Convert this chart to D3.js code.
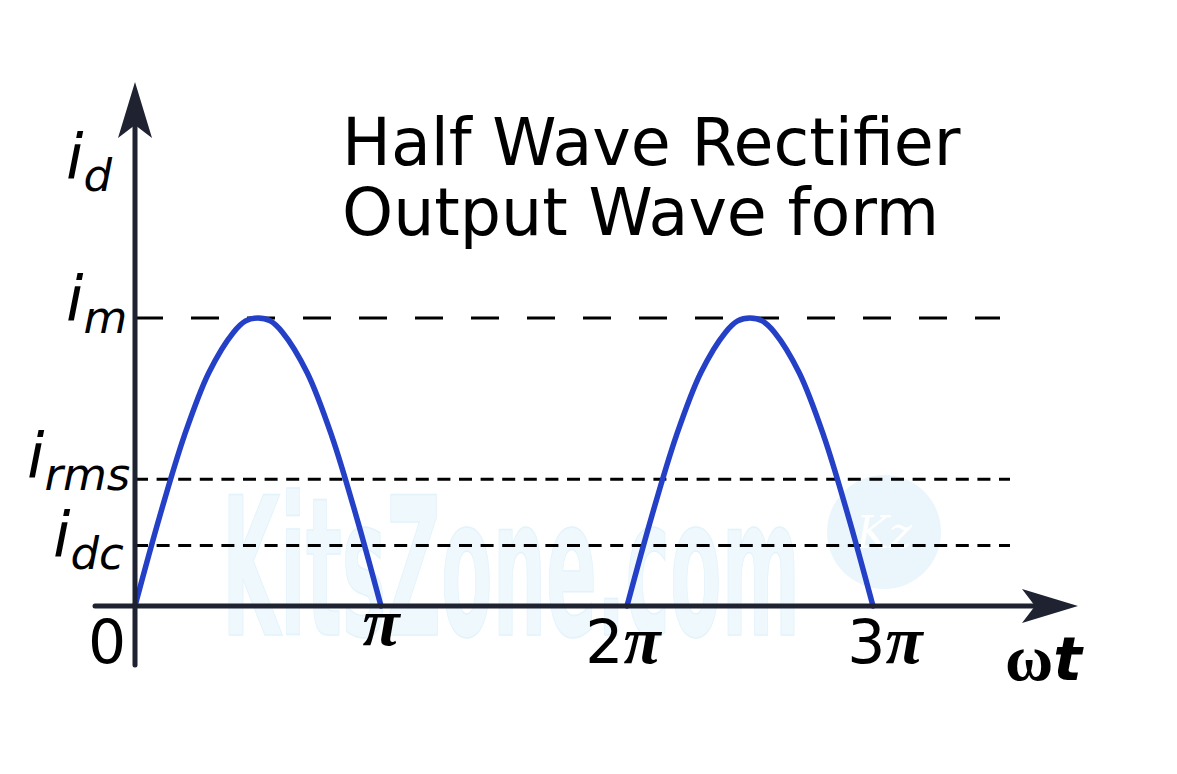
<!DOCTYPE html>
<html>
<head>
<meta charset="utf-8">
<script src="https://cdn.jsdelivr.net/npm/d3@7/dist/d3.min.js"></script>
<style>
  html, body { margin: 0; padding: 0; background: #fff; }
  svg { display: block; }
  text { font-family: 'DejaVu Sans', sans-serif; }
</style>
</head>
<body>
<div id="app"></div>
<script>
// values, x in multiples of pi, y as a fraction of i_m
const tickValues = [0, 1, 2, 3];
const tickLabels = ['0', 'π', '2π', '3π'];

const levelNames  = ['m', 'rms', 'dc'];
const levelValues = [1, 0.44, 0.21];

const humpStarts = [0, 2];
const wavePhase = [0, 0.1, 0.2, 0.3, 0.4, 0.45, 0.5, 0.55, 0.6, 0.7, 0.8, 0.9, 1.0];
const waveValue = [0, 0.31, 0.59, 0.81, 0.95, 0.99, 1, 0.99, 0.95, 0.81, 0.59, 0.31, 0];

const titleLines = ['Half Wave Rectifier', 'Output Wave form'];

const width = 1177;
const height = 774;
const axisColor = '#1e2231';
const waveColor = '#2440c6';
const piFont = "'Liberation Serif', 'DejaVu Serif', serif";

const x = d3.scaleLinear().domain([0, 3]).range([135, 873]);
const y = d3.scaleLinear().domain([0, 1]).range([606, 318]);

const svg = d3.select('#app').append('svg')
  .attr('width', width)
  .attr('height', height);

// Watermark
const wm = svg.append('g').attr('class', 'watermark');
wm.append('text')
  .text('KitsZone.com')
  .attr('x', 222)
  .attr('y', 635)
  .attr('textLength', 578)
  .attr('lengthAdjust', 'spacingAndGlyphs')
  .style('font-family', "'Liberation Sans Narrow', 'DejaVu Sans Condensed', sans-serif")
  .style('font-weight', 'bold')
  .style('font-size', '192px')
  .style('fill', '#eef8fd')
  .style('stroke', '#e3f3fb')
  .style('stroke-width', 1.5);
wm.append('circle')
  .attr('cx', 884)
  .attr('cy', 532)
  .attr('r', 57)
  .style('fill', '#eaf6fc');
wm.append('text')
  .text('Kz')
  .attr('x', 884)
  .attr('y', 548)
  .attr('text-anchor', 'middle')
  .style('font-family', "'DejaVu Serif', serif")
  .style('font-style', 'italic')
  .style('font-size', '44px')
  .style('fill', '#ffffff');

// Reference levels
const levels = svg.append('g').attr('class', 'levels');
levelValues.forEach((v, i) => {
  levels.append('line')
    .attr('x1', x(0))
    .attr('x2', i === 0 ? 1000 : 1010)
    .attr('y1', y(v))
    .attr('y2', y(v))
    .style('stroke', '#000')
    .style('stroke-width', 3)
    .style('stroke-dasharray', i === 0 ? '28 28' : '13 8.6');
});

// Waveform
const line = d3.line()
  .x(d => x(d[0]))
  .y(d => y(d[1]))
  .curve(d3.curveCatmullRom);

humpStarts.forEach(start => {
  const pts = wavePhase.map((p, i) => [start + p, waveValue[i]]);
  svg.append('path')
    .datum(pts)
    .attr('d', line)
    .style('fill', 'none')
    .style('stroke', waveColor)
    .style('stroke-width', 5.5)
    .style('stroke-linecap', 'round')
    .style('stroke-linejoin', 'round');
});

// Axes
svg.append('line')
  .attr('x1', 95).attr('x2', 1040)
  .attr('y1', y(0)).attr('y2', y(0))
  .style('stroke', axisColor)
  .style('stroke-width', 5)
  .style('stroke-linecap', 'round');
svg.append('line')
  .attr('x1', x(0)).attr('x2', x(0))
  .attr('y1', 665).attr('y2', 120)
  .style('stroke', axisColor)
  .style('stroke-width', 5)
  .style('stroke-linecap', 'round');

const x0 = x(0), y0 = y(0);
svg.append('path')
  .attr('d', `M${x0},82 L${x0 + 17},138 L${x0},125 L${x0 - 17},138 Z`)
  .style('fill', axisColor);
svg.append('path')
  .attr('d', `M1078,${y0} L1022,${y0 + 17} L1035,${y0} L1022,${y0 - 17} Z`)
  .style('fill', axisColor);

// Tick labels on the time axis
const tickShift = [-28, 0, -4, 12];
tickValues.forEach((t, i) => {
  const label = tickLabels[i];
  const txt = svg.append('text')
    .attr('x', x(t) + tickShift[i])
    .attr('y', t === 1 ? 645 : 663)
    .attr('text-anchor', 'middle')
    .style('font-size', '60px');
  const digits = label.replace('π', '');
  if (digits) txt.append('tspan').text(digits);
  if (label.includes('π')) {
    txt.append('tspan')
      .text('π')
      .style('font-family', piFont)
      .style('font-weight', 'bold')
      .style('font-style', 'italic')
      .style('font-size', '68px');
  }
});

// omega t
const wt = svg.append('text')
  .attr('x', 1005)
  .attr('y', 680)
  .style('font-size', '60px')
  .style('font-weight', 'bold');
wt.append('tspan').text('ω').style('font-family', piFont).style('font-size', '66px');
wt.append('tspan').text('t').style('font-style', 'italic');

// Current labels
const currentLabel = (xPos, yBase, sub) => {
  const t = svg.append('text')
    .attr('x', xPos)
    .attr('y', yBase)
    .style('font-style', 'italic');
  t.append('tspan').text('i').style('font-size', '63px');
  t.append('tspan').text(sub).attr('dy', 13).style('font-size', '45px');
};
currentLabel(66, 178, 'd');
const labelX = [66, 27, 53];
const labelDy = [2, -2, 10];
levelNames.forEach((n, i) => currentLabel(labelX[i], y(levelValues[i]) + labelDy[i], n));

// Title
const title = svg.append('text')
  .attr('x', 342)
  .attr('y', 165)
  .style('font-size', '65px')
  .style('fill', '#000');
titleLines.forEach((l, i) => {
  title.append('tspan')
    .attr('x', 342)
    .attr('dy', i === 0 ? 0 : 70)
    .text(l);
});
</script>
</body>
</html>
